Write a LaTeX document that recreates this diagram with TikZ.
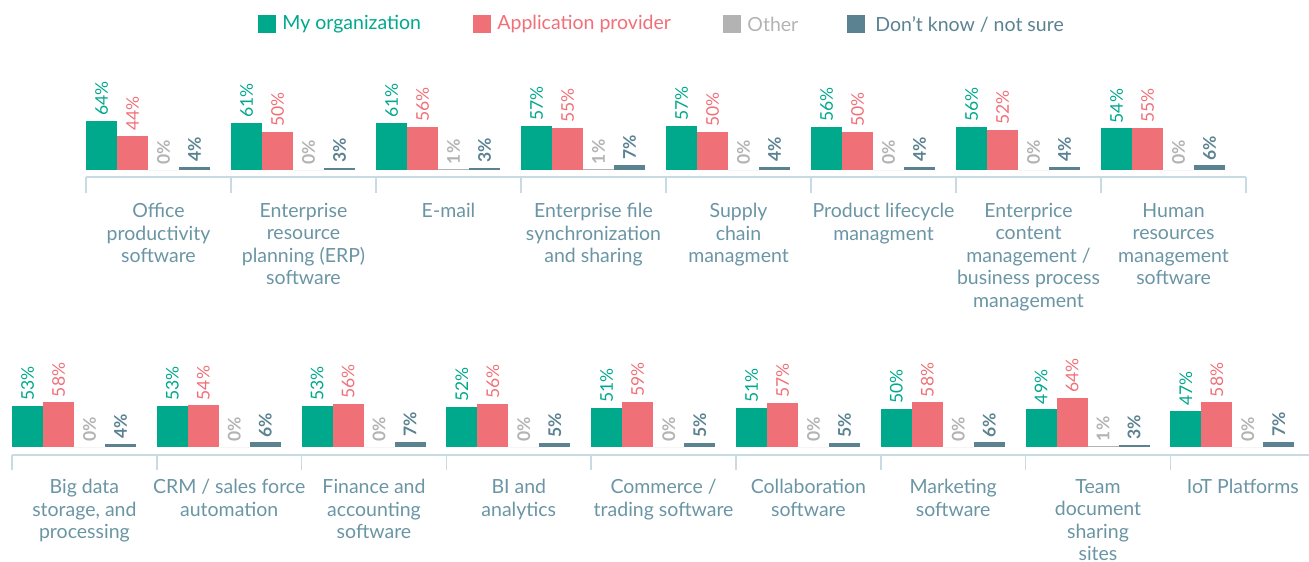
\documentclass[tikz,border=0pt]{standalone}
\usepackage{fontspec}
\setmainfont{Lato}
\usetikzlibrary{positioning}

\definecolor{orgc}{HTML}{00A88C}
\definecolor{provc}{HTML}{F07078}
\definecolor{otherc}{HTML}{B3B3B3}
\definecolor{dkc}{HTML}{5A8291}
\definecolor{catc}{HTML}{6A95A4}
\definecolor{axisc}{HTML}{C8DBE2}

\begin{document}
\begin{tikzpicture}
  [x=1pt,y=-1pt,
   pct/.style={rotate=90,anchor=west,inner sep=0pt,
      font=\fontsize{17.5}{17.5}\selectfont,text=#1},
   cat/.style={anchor=north,align=center,inner sep=0pt,
      text=catc,font=\fontsize{19.5}{22.5}\selectfont},
   key/.style={minimum size=18pt,inner sep=0pt,fill=#1},
   keytxt/.style={right=6pt of #1,inner sep=0pt,
      font=\fontsize{19.5}{19.5}\selectfont},
   axis/.style={draw=axisc,line width=1.6pt}]
  \useasboundingbox (0,0) rectangle (1309,562);

  % legend
  \node[key=orgc] (k1) at (267,24) {};
  \node[keytxt=k1,text=orgc] (t1) {My organization};
  \node[key=provc] (k2) at (482,24) {};
  \node[keytxt=k2,text=provc] (t2) {Application provider};
  \node[key=otherc] (k3) at (732,24) {};
  \node[keytxt=k3,text=otherc] (t3) {Other};
  \node[key=dkc] (k4) at (856,24) {};
  \node[keytxt=k4,text=dkc,right=10pt of k4] (t4) {Don’t know / not sure};

  % first row
  \draw[axis] (86,177) -- (1246,177);
  \foreach \i in {0,...,8}
    \draw[axis] (86+145*\i,177) -- (86+145*\i,193);
  \foreach \a/\b/\c/\d/\txt [count=\i from 0] in {
      64/44/0/4/{Office\\productivity\\software},
      61/50/0/3/{Enterprise\\resource\\planning (ERP)\\software},
      61/56/1/3/{E-mail},
      57/55/1/7/{Enterprise file\\synchronization\\and sharing},
      57/50/0/4/{Supply\\chain\\managment},
      56/50/0/4/{Product lifecycle\\managment},
      56/52/0/4/{Enterprice\\content\\management /\\business process\\management},
      54/55/0/6/{Human\\resources\\management\\software}} {
    \pgfmathsetmacro\xo{86+145*\i}
    \foreach \v/\col/\wt [count=\j from 0] in
        {\a/orgc/\mdseries,\b/provc/\mdseries,\c/otherc/\bfseries,\d/dkc/\bfseries} {
      \fill[\col] (\xo+31*\j,170) rectangle ++(31,-0.77*\v);
      \node[pct=\col] (pa\i-\j) at (\xo+31*\j+15.5,165-0.77*\v) {\wt\v\%};
    }
    \node[cat] (ca\i) at (\xo+72.5,203) {\txt};
  }

  % second row
  \draw[axis] (12,455) -- (1309,455);
  \foreach \i in {0,...,8}
    \draw[axis] (12+144.8*\i,455) -- (12+144.8*\i,470);
  \foreach \a/\b/\c/\d/\txt [count=\i from 0] in {
      53/58/0/4/{Big data\\storage, and\\processing},
      53/54/0/6/{CRM / sales force\\automation},
      53/56/0/7/{Finance and\\accounting\\software},
      52/56/0/5/{BI and\\analytics},
      51/59/0/5/{Commerce /\\trading software},
      51/57/0/5/{Collaboration\\software},
      50/58/0/6/{Marketing\\software},
      49/64/1/3/{Team\\document\\sharing\\sites},
      47/58/0/7/{IoT Platforms}} {
    \pgfmathsetmacro\xo{12+144.8*\i}
    \foreach \v/\col/\wt [count=\j from 0] in
        {\a/orgc/\mdseries,\b/provc/\mdseries,\c/otherc/\bfseries,\d/dkc/\bfseries} {
      \fill[\col] (\xo+31*\j,447) rectangle ++(31,-0.77*\v);
      \node[pct=\col] (pb\i-\j) at (\xo+31*\j+15.5,442-0.77*\v) {\wt\v\%};
    }
    \node[cat] (cb\i) at (\xo+72.4,479) {\txt};
  }
\end{tikzpicture}
\end{document}
